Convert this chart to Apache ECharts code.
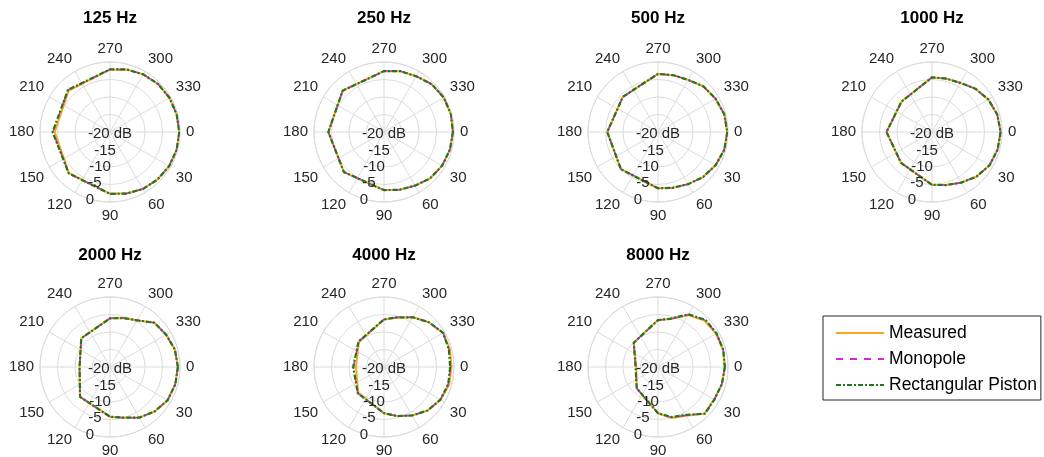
<!DOCTYPE html>
<html>
<head>
<meta charset="utf-8">
<script src="https://cdn.jsdelivr.net/npm/echarts@6/dist/echarts.min.js"></script>
<style>
  html, body { margin: 0; background: #fff; }
  #chart { width: 1044px; height: 457px; }
</style>
</head>
<body>
<div id="chart"></div>
<script>
// frequencies (one subplot each)
const freqs = ['125 Hz', '250 Hz', '500 Hz', '1000 Hz', '2000 Hz', '4000 Hz', '8000 Hz'];
// measurement angles in degrees
const angles = [0, 15, 30, 45, 60, 75, 90, 135, 180, 225, 270, 285, 300, 315, 330, 345];
// radial ticks in dB
const rTicks = [-20, -15, -10, -5, 0];

// level in dB at each angle, one row per frequency
const measured = [
  [-0.2, -0.3, -0.5, -0.8, -1.2, -1.8, -2.4, -3.4, -4.2, -3.3, -2.2, -1.5, -1.0, -0.6, -0.4, -0.3],
  [-0.3, -0.5, -0.8, -1.3, -2.3, -2.9, -3.4, -3.8, -4.1, -3.3, -2.6, -2.0, -1.6, -0.7, -0.3, -0.2],
  [-0.2, -0.4, -1.0, -1.8, -2.8, -3.5, -3.9, -5.0, -5.5, -5.8, -3.4, -3.2, -2.8, -1.6, -1.0, -0.4],
  [-0.4, -0.6, -1.0, -2.0, -3.3, -4.3, -4.9, -7.5, -7.0, -7.7, -4.4, -4.2, -3.8, -2.5, -1.4, -0.7],
  [-0.6, -0.7, -1.0, -2.0, -3.3, -5.0, -5.8, -7.9, -11.3, -8.4, -6.1, -5.5, -4.6, -2.1, -1.5, -0.8],
  [-0.7, -0.7, -1.3, -2.4, -4.0, -5.5, -6.8, -9.6, -12.0, -9.9, -6.4, -5.4, -3.6, -1.9, -0.5, -0.5],
  [-0.9, -1.1, -1.5, -1.2, -3.9, -4.9, -6.8, -11.4, -13.8, -10.2, -6.6, -5.8, -2.9, -1.2, -0.9, -0.8]
];
const monopole = [
  [-0.2, -0.3, -0.5, -0.8, -1.2, -1.8, -2.3, -3.3, -3.7, -3.0, -2.1, -1.5, -1.0, -0.6, -0.4, -0.3],
  [-0.3, -0.5, -0.8, -1.3, -2.3, -2.9, -3.4, -3.8, -4.1, -3.3, -2.6, -2.0, -1.6, -0.7, -0.3, -0.2],
  [-0.2, -0.4, -1.0, -1.8, -2.8, -3.5, -3.9, -5.0, -5.5, -5.8, -3.4, -3.2, -2.8, -1.6, -1.0, -0.4],
  [-0.4, -0.6, -1.0, -2.0, -3.3, -4.3, -4.9, -7.5, -7.0, -7.7, -4.4, -4.2, -3.8, -2.5, -1.4, -0.7],
  [-0.6, -0.7, -1.0, -2.0, -3.3, -5.0, -5.8, -7.9, -11.3, -8.4, -6.1, -5.5, -4.6, -2.1, -1.5, -0.8],
  [-1.0, -1.0, -1.4, -2.4, -4.0, -5.5, -6.8, -9.4, -11.3, -9.7, -6.4, -5.3, -3.6, -1.9, -0.5, -0.8],
  [-0.9, -1.1, -1.4, -1.1, -4.1, -5.1, -6.8, -11.4, -13.6, -10.2, -6.6, -5.7, -2.7, -1.0, -0.7, -0.7]
];
const piston = [
  [-0.2, -0.3, -0.5, -0.8, -1.2, -1.8, -2.3, -3.3, -3.6, -3.0, -2.1, -1.5, -1.0, -0.6, -0.4, -0.3],
  [-0.3, -0.5, -0.8, -1.3, -2.3, -2.9, -3.4, -3.8, -4.1, -3.3, -2.6, -2.0, -1.6, -0.7, -0.3, -0.2],
  [-0.2, -0.4, -1.0, -1.8, -2.8, -3.5, -3.9, -5.0, -5.5, -5.8, -3.4, -3.2, -2.8, -1.6, -1.0, -0.4],
  [-0.4, -0.6, -1.0, -2.0, -3.3, -4.3, -4.9, -7.5, -7.0, -7.7, -4.4, -4.2, -3.8, -2.5, -1.4, -0.7],
  [-0.6, -0.7, -1.0, -2.0, -3.3, -5.0, -5.8, -7.9, -11.3, -8.4, -6.1, -5.5, -4.6, -2.1, -1.5, -0.8],
  [-1.1, -1.0, -1.4, -2.4, -4.0, -5.5, -6.8, -9.4, -11.2, -9.7, -6.4, -5.3, -3.6, -1.9, -0.5, -0.8],
  [-0.9, -1.1, -1.4, -1.1, -4.2, -5.2, -6.8, -11.4, -13.6, -10.2, -6.6, -5.7, -2.6, -0.9, -0.7, -0.7]
];

const FONT = '"Liberation Sans", Arial, Helvetica, sans-serif';
const TEXT = '#262626';
const GRID = '#dcdcdc';
const R = 70;
const centers = [[110, 132], [384, 132], [658, 132], [932, 132], [110, 367], [384, 367], [658, 367]];

const kinds = [
  { name: 'Measured', rows: measured, lineStyle: { color: '#ffa51e', width: 2, type: 'solid' } },
  { name: 'Monopole', rows: monopole, lineStyle: { color: '#e020e0', width: 1.5, type: [7, 7] } },
  { name: 'Rectangular Piston', rows: piston, lineStyle: { color: '#1d7a1d', width: 2.2, type: [5, 2, 2, 2] } }
];

const closed = (vals) => {
  const d = angles.map((a, k) => [vals[k], a]);
  d.push(d[0].slice());
  return d;
};

const title = [], polar = [], angleAxis = [], radiusAxis = [], series = [];

freqs.forEach((f, i) => {
  const [cx, cy] = centers[i];
  title.push({
    text: f,
    left: cx,
    top: cy <= 200 ? 10 : 247,
    textAlign: 'center',
    padding: 0,
    textStyle: { fontFamily: FONT, fontSize: 17, fontWeight: 'bold', color: '#000' }
  });

  // main polar: grid + angle labels
  polar.push({ center: [cx, cy], radius: R });
  angleAxis.push({
    polarIndex: 2 * i,
    type: 'value',
    min: 0,
    max: 360,
    interval: 30,
    startAngle: 0,
    clockwise: true,
    axisLine: { lineStyle: { color: GRID, width: 1 } },
    axisTick: { show: false },
    splitLine: { lineStyle: { color: GRID, width: 1 } },
    axisLabel: { margin: 6, color: TEXT, fontFamily: FONT, fontSize: 15 }
  });
  radiusAxis.push({
    polarIndex: 2 * i,
    type: 'value',
    min: rTicks[0],
    max: rTicks[rTicks.length - 1],
    interval: 5,
    axisLine: { show: false },
    axisTick: { show: false },
    axisLabel: { show: false },
    splitLine: { lineStyle: { color: GRID, width: 1 } }
  });

  // overlay polar only for the dB labels, laid along ~107 deg
  polar.push({ center: [cx, cy + 2], radius: R * 0.98 });
  angleAxis.push({
    polarIndex: 2 * i + 1,
    type: 'value',
    min: 0,
    max: 360,
    startAngle: -107,
    show: false
  });
  radiusAxis.push({
    polarIndex: 2 * i + 1,
    type: 'value',
    min: rTicks[0],
    max: rTicks[rTicks.length - 1],
    interval: 5,
    axisLine: { show: false },
    axisTick: { show: false },
    splitLine: { show: false },
    axisLabel: {
      margin: 0,
      align: 'center',
      verticalAlign: 'middle',
      color: TEXT,
      fontFamily: FONT,
      fontSize: 15,
      formatter: (v) => (v === rTicks[0] ? v + ' dB' : String(v))
    },
    z: 5
  });

  kinds.forEach((k, j) => {
    series.push({
      type: 'line',
      name: k.name,
      coordinateSystem: 'polar',
      polarIndex: 2 * i,
      symbol: 'none',
      data: closed(k.rows[i]),
      lineStyle: k.lineStyle,
      itemStyle: { color: k.lineStyle.color },
      z: 2 + j
    });
  });
});

const option = {
  animation: false,
  backgroundColor: '#fff',
  title,
  polar,
  angleAxis,
  radiusAxis,
  legend: {
    orient: 'vertical',
    left: 823,
    top: 316,
    padding: [8, 4, 6, 12],
    itemWidth: 48,
    itemHeight: 14,
    itemGap: 8,
    borderColor: '#262626',
    borderWidth: 1,
    borderRadius: 0,
    backgroundColor: '#fff',
    itemStyle: { opacity: 0 },
    data: kinds.map((k) => k.name),
    textStyle: { fontFamily: FONT, fontSize: 17.5, color: '#000' }
  },
  series
};

const chart = echarts.init(document.getElementById('chart'), null, { renderer: 'canvas' });
chart.setOption(option);
</script>
</body>
</html>
